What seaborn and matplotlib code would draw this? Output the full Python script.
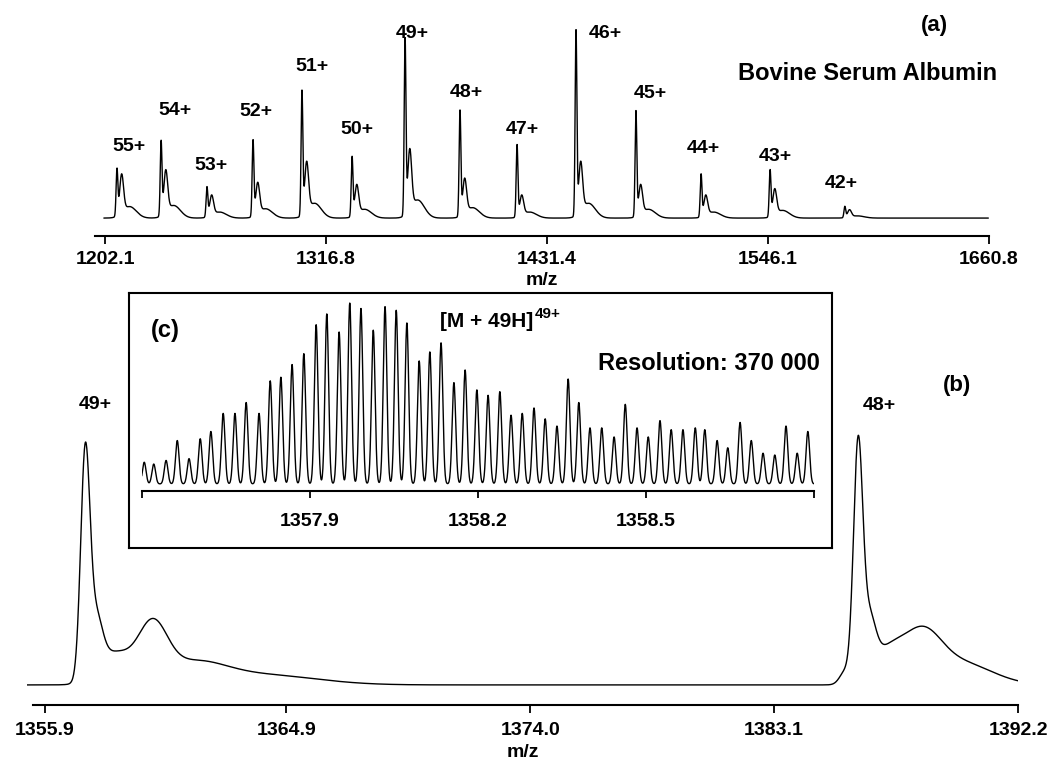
import numpy as np
import matplotlib
matplotlib.use("Agg")
import matplotlib.pyplot as plt
import seaborn as sns

# ---- data ----
# (a) full charge-state envelope of BSA
a_charge = ['55+', '54+', '53+', '52+', '51+', '50+', '49+',
            '48+', '47+', '46+', '45+', '44+', '43+', '42+']
a_mz = [1208.3, 1231.2, 1255.0, 1278.9, 1304.3, 1330.3, 1357.8,
        1386.3, 1415.9, 1446.5, 1477.6, 1511.4, 1547.2, 1586.0]
a_height = [25, 40, 16, 41, 67, 32, 95, 57, 39, 100, 57, 23, 25, 6]
a_adduct = [21, 23, 11, 17, 27, 16, 33, 19, 11, 27, 16, 11, 14, 4]
a_ticks = [1202.1, 1316.8, 1431.4, 1546.1, 1660.8]

# (b) zoom on 49+ and 48+ (peak + adduct components)
b_mz = [1357.40, 1357.78, 1358.45, 1359.90, 1361.4, 1364.0,
        1385.75, 1386.23, 1386.62, 1387.3, 1388.6, 1390.0]
b_height = [88, 22, 12, 22, 8, 4, 5, 91, 22, 12, 18, 9]
b_width = [0.17, 0.25, 0.6, 0.55, 1.2, 2.0, 0.2, 0.17, 0.25, 0.6, 0.7, 1.2]
b_label = ['49+', '48+']
b_label_mz = [1357.40, 1386.23]
b_label_height = [97.6, 100]
b_ticks = [1355.9, 1364.9, 1374.0, 1383.1, 1392.2]

# (c) isotopic fine structure of [M + 49H]49+
c_mz = [1357.604, 1357.621, 1357.643, 1357.663, 1357.684, 1357.704, 1357.723,
        1357.745, 1357.766, 1357.786, 1357.809, 1357.829, 1357.848, 1357.868,
        1357.889, 1357.911, 1357.930, 1357.952, 1357.971, 1357.991, 1358.013,
        1358.034, 1358.054, 1358.073, 1358.095, 1358.114, 1358.134, 1358.157,
        1358.177, 1358.198, 1358.218, 1358.239, 1358.259, 1358.279, 1358.300,
        1358.320, 1358.341, 1358.361, 1358.380, 1358.400, 1358.421, 1358.443,
        1358.463, 1358.484, 1358.504, 1358.525, 1358.545, 1358.566, 1358.588,
        1358.605, 1358.627, 1358.646, 1358.668, 1358.688, 1358.709, 1358.730,
        1358.750, 1358.770, 1358.789]
c_height = [12, 11, 13, 24, 14, 25, 29, 39, 39, 45,
            39, 57, 59, 66, 72, 88, 94, 84, 100, 97,
            85, 98, 96, 89, 68, 73, 78, 56, 63, 52,
            49, 51, 38, 39, 42, 36, 32, 58, 45, 31,
            31, 26, 44, 31, 26, 35, 30, 30, 31, 30,
            24, 20, 34, 24, 17, 16, 32, 17, 29]
c_ticks = [1357.6, 1357.9, 1358.2, 1358.5, 1358.8]
c_ticklabels = ['', '1357.9', '1358.2', '1358.5', '']


def profile(grid, centers, heights, widths):
    """Sum of gaussian line shapes."""
    out = np.zeros_like(grid)
    for c, h, w in zip(centers, heights, widths):
        out += h * np.exp(-0.5 * ((grid - c) / w) ** 2)
    return out


W, H = 1050, 765


def rect(l, t, r, b):
    return [l / W, 1 - b / H, (r - l) / W, (b - t) / H]


def fxy(x, y):
    return x / W, 1 - y / H


sns.set_theme(style="white")
plt.rcParams['font.family'] = ['Liberation Sans', 'DejaVu Sans']
plt.rcParams['font.weight'] = 'bold'
plt.rcParams['text.color'] = 'black'
plt.rcParams['axes.labelcolor'] = 'black'
plt.rcParams['xtick.color'] = 'black'
plt.rcParams['xtick.labelcolor'] = 'black'

fig = plt.figure(figsize=(10.5, 7.65), dpi=100)
fig.patch.set_facecolor('white')


def style_axis(ax, ticks, labels, pad, length):
    for s in ['left', 'right', 'top']:
        ax.spines[s].set_visible(False)
    ax.spines['bottom'].set_linewidth(1.5)
    ax.spines['bottom'].set_color('black')
    ax.set_yticks([])
    ax.set_xticks(ticks)
    ax.set_xticklabels(labels)
    ax.tick_params(axis='x', direction='out', length=length, width=1.3,
                   color='black', labelcolor='black', labelsize=14,
                   pad=pad, bottom=True)
    ax.set_facecolor('none')
    ax.set_ylabel('')


# ---- panel (a) ----
ax_a = fig.add_axes(rect(95, 10, 989, 236))
grid_a = np.arange(1201.5, 1660.5, 0.05)
# main line, adduct shoulder just above it, and a slow tail
centers = a_mz + [m + 2.4 for m in a_mz] + [m + 6.5 for m in a_mz]
heights = a_height + a_adduct + [0.3 * s for s in a_adduct]
widths = [0.45] * len(a_mz) + [1.0] * len(a_mz) + [3.5] * len(a_mz)
spec_a = profile(grid_a, centers, heights, widths)
sns.lineplot(x=grid_a, y=spec_a, ax=ax_a, color='black', linewidth=1.0,
             estimator=None, sort=False)
ax_a.set_xlim(1196.9, 1660.8)
ax_a.set_ylim(-9.8, 113.7)
style_axis(ax_a, a_ticks, [f"{t:.1f}" for t in a_ticks], pad=5, length=6)
ax_a.set_xlabel('m/z', fontsize=14, fontweight='bold', labelpad=3)

a_offsets = [(12, 26), (14, 34), (4, 23), (3, 32), (10, 29), (5, 30), (7, 11),
             (6, 21), (5, 17), (29, 2), (14, 20), (2, 27), (5, 16), (-4, 24)]
for lab, m, h, off in zip(a_charge, a_mz, a_height, a_offsets):
    ax_a.annotate(lab, xy=(m, h), xytext=off, textcoords='offset pixels',
                  ha='center', va='center', fontsize=14, fontweight='bold')

# ---- panel (b) ----
ax_b = fig.add_axes(rect(27, 380, 1018, 705))
grid_b = np.arange(1355.23, 1392.2, 0.01)
spec_b = profile(grid_b, b_mz, b_height, b_width)
sns.lineplot(x=grid_b, y=spec_b, ax=ax_b, color='black', linewidth=1.0,
             estimator=None, sort=False)
ax_b.set_xlim(1355.23, 1392.2)
ax_b.set_ylim(-8.1, 123)
style_axis(ax_b, b_ticks, [f"{t:.1f}" for t in b_ticks], pad=6, length=6)
ax_b.spines['bottom'].set_bounds(1355.45, 1392.2)
ax_b.set_xlabel('m/z', fontsize=14, fontweight='bold', labelpad=4)
b_offsets = [(10, 38), (21, 32)]
for lab, m, h, off in zip(b_label, b_label_mz, b_label_height, b_offsets):
    ax_b.annotate(lab, xy=(m, h), xytext=off, textcoords='offset pixels',
                  ha='center', va='center', fontsize=14, fontweight='bold')

# ---- inset (c) ----
ax_box = fig.add_axes(rect(129, 293, 832, 548))
ax_box.set_xticks([])
ax_box.set_yticks([])
ax_box.set_facecolor('white')
for s in ax_box.spines.values():
    s.set_visible(True)
    s.set_linewidth(1.5)
    s.set_color('black')

ax_c = fig.add_axes(rect(142, 296, 814, 491))
grid_c = np.arange(1357.595, 1358.8, 0.0005)
spec_c = profile(grid_c, c_mz, c_height, [0.0032] * len(c_mz))
sns.lineplot(x=grid_c, y=spec_c, ax=ax_c, color='black', linewidth=1.0,
             estimator=None, sort=False)
ax_c.set_xlim(1357.6, 1358.8)
ax_c.set_ylim(-3.9, 103.9)
style_axis(ax_c, c_ticks, c_ticklabels, pad=11, length=5)
ax_c.set_xlabel('')

# ---- free text ----
fig.text(*fxy(934, 25), '(a)', ha='center', va='center', fontsize=16, fontweight='bold')
fig.text(*fxy(868, 73), 'Bovine Serum Albumin', ha='center', va='center',
         fontsize=17, fontweight='bold')
fig.text(*fxy(957, 385), '(b)', ha='center', va='center', fontsize=16, fontweight='bold')
fig.text(*fxy(165, 331), '(c)', ha='center', va='center', fontsize=17, fontweight='bold')
fig.text(*fxy(440, 321), '[M + 49H]', ha='left', va='center',
         fontsize=15, fontweight='bold')
fig.text(*fxy(535, 314), '49+', ha='left', va='center',
         fontsize=11, fontweight='bold')
fig.text(*fxy(820, 363), 'Resolution: 370 000', ha='right', va='center',
         fontsize=17, fontweight='bold')

fig.savefig('out.png', dpi=100, facecolor='white')
